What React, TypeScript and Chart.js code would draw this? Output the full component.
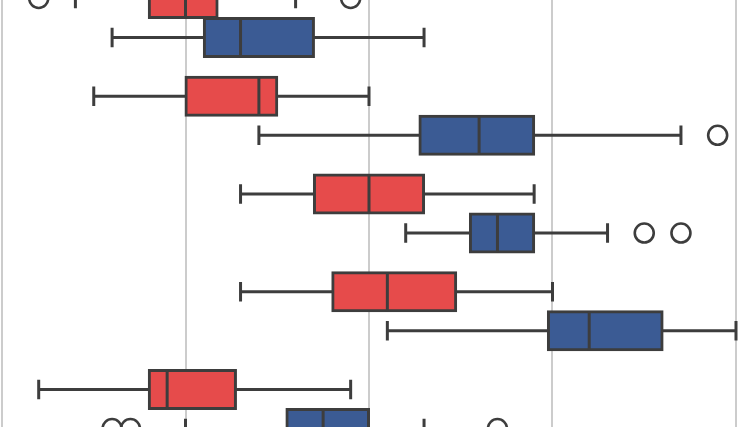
import React, { useEffect, useRef } from "react";
import { Chart, registerables } from "chart.js";

Chart.register(...registerables);

// Visible category rows (top to bottom)
const categories = [0, 1, 2, 3, 4];

// Red (upper hue) box statistics
const redLow = [4, 5, 13, 13, 2];
const redQ1 = [8, 10, 17, 18, 8];
const redMedian = [10, 14, 20, 21, 9];
const redQ3 = [11.75, 15, 23, 24.75, 12.75];
const redHigh = [16, 20, 29, 30, 19];
const redOutliers = [[2, 19], [], [], [], []];

// Blue (lower hue) box statistics
const blueLow = [6, 14, 22, 21, 10];
const blueQ1 = [11, 22.75, 25.5, 29.75, 15.5];
const blueMedian = [13, 26, 27, 32, 17.5];
const blueQ3 = [17, 29, 29, 36, 20];
const blueHigh = [23, 37, 33, 40, 23];
const blueOutliers = [[], [39], [35, 37], [], [6, 7, 27]];

// Vertical grid positions
const gridTicks = [0, 10, 20, 30, 40];

const RED = "#e64b4b";
const BLUE = "#3b5b94";
const EDGE = "#3d3d3d";
const GRID = "#cccccc";

const CAT_PCT = 0.8;
const HUES = 2;

type Series = {
  low: number[];
  q1: number[];
  med: number[];
  q3: number[];
  high: number[];
  out: number[][];
};

const series: Series[] = [
  { low: redLow, q1: redQ1, med: redMedian, q3: redQ3, high: redHigh, out: redOutliers },
  { low: blueLow, q1: blueQ1, med: blueMedian, q3: blueQ3, high: blueHigh, out: blueOutliers },
];

const boxPlugin = {
  id: "boxWhiskers",
  beforeDatasetsDraw(chart: any) {
    const ctx = chart.ctx;
    const xs = chart.scales.x;
    ctx.save();
    series.forEach((s, di) => {
      const meta = chart.getDatasetMeta(di);
      meta.data.forEach((el: any, i: number) => {
        const { y, height } = el.getProps(["y", "height"], true);
        const lo = xs.getPixelForValue(s.low[i]);
        const q1 = xs.getPixelForValue(s.q1[i]);
        const q3 = xs.getPixelForValue(s.q3[i]);
        const hi = xs.getPixelForValue(s.high[i]);
        const cap = Math.abs(height) / 4;
        ctx.strokeStyle = EDGE;
        ctx.lineWidth = 3;
        ctx.lineCap = "butt";
        ctx.beginPath();
        ctx.moveTo(lo, y);
        ctx.lineTo(q1, y);
        ctx.moveTo(q3, y);
        ctx.lineTo(hi, y);
        ctx.moveTo(lo, y - cap);
        ctx.lineTo(lo, y + cap);
        ctx.moveTo(hi, y - cap);
        ctx.lineTo(hi, y + cap);
        ctx.stroke();
      });
    });
    ctx.restore();
  },
  afterDatasetsDraw(chart: any) {
    const ctx = chart.ctx;
    const xs = chart.scales.x;
    ctx.save();
    series.forEach((s, di) => {
      const meta = chart.getDatasetMeta(di);
      meta.data.forEach((el: any, i: number) => {
        const { y, height } = el.getProps(["y", "height"], true);
        const h = Math.abs(height);
        const m = xs.getPixelForValue(s.med[i]);
        ctx.strokeStyle = EDGE;
        ctx.lineWidth = 3;
        ctx.beginPath();
        ctx.moveTo(m, y - h / 2);
        ctx.lineTo(m, y + h / 2);
        ctx.stroke();
      });
    });
    ctx.restore();
  },
};

export default function App() {
  const ref = useRef<HTMLCanvasElement | null>(null);

  useEffect(() => {
    if (!ref.current) return;
    const dodge = CAT_PCT / HUES;
    const outlierPoints: { x: number; y: number }[] = [];
    series.forEach((s, hi) => {
      const off = -CAT_PCT / 2 + dodge * hi + dodge / 2;
      s.out.forEach((vals, ci) => {
        vals.forEach((v) => outlierPoints.push({ x: v, y: categories[ci] + off }));
      });
    });

    const chart = new Chart(ref.current, {
      type: "bar",
      data: {
        datasets: [
          {
            type: "bar",
            label: "red",
            data: categories.map((c, i) => ({ y: c, x: [redQ1[i], redQ3[i]] })) as any,
            backgroundColor: RED,
            borderColor: EDGE,
            borderWidth: 3,
            borderSkipped: false,
            inflateAmount: 1,
            barPercentage: 1,
            categoryPercentage: CAT_PCT,
          },
          {
            type: "bar",
            label: "blue",
            data: categories.map((c, i) => ({ y: c, x: [blueQ1[i], blueQ3[i]] })) as any,
            backgroundColor: BLUE,
            borderColor: EDGE,
            borderWidth: 3,
            borderSkipped: false,
            inflateAmount: 1,
            barPercentage: 1,
            categoryPercentage: CAT_PCT,
          },
          {
            type: "scatter",
            label: "outliers",
            indexAxis: "x",
            data: outlierPoints as any,
            pointRadius: 9.5,
            pointBorderWidth: 2.6,
            borderColor: EDGE,
            backgroundColor: "rgba(0,0,0,0)",
            pointBackgroundColor: "rgba(0,0,0,0)",
            pointBorderColor: EDGE,
            showLine: false,
            clip: false,
          } as any,
        ],
      },
      options: {
        indexAxis: "y",
        animation: false,
        responsive: false,
        devicePixelRatio: 1,
        events: [],
        layout: { padding: 0, autoPadding: false },
        plugins: {
          legend: { display: false },
          tooltip: { enabled: false },
        },
        scales: {
          x: {
            type: "linear",
            position: "bottom",
            min: -0.109,
            max: 40.109,
            offset: false,
            afterBuildTicks: (scale: any) => {
              scale.ticks = gridTicks.map((v) => ({ value: v }));
            },
            ticks: { display: false },
            grid: { color: GRID, lineWidth: 2, drawTicks: false, offset: false },
            border: { display: false },
          },
          y: {
            type: "linear",
            min: -0.1841,
            max: 4.1841,
            reverse: true,
            offset: false,
            display: false,
            afterBuildTicks: (scale: any) => {
              scale.ticks = categories.map((v) => ({ value: v }));
            },
            grid: { display: false, offset: false },
          },
        },
      } as any,
      plugins: [boxPlugin],
    });
    return () => chart.destroy();
  }, []);

  return (
    <div style={{ position: "absolute", left: 0, top: 0, width: 738, height: 427, background: "#fff" }}>
      <canvas ref={ref} width={738} height={427} style={{ display: "block" }} />
    </div>
  );
}
